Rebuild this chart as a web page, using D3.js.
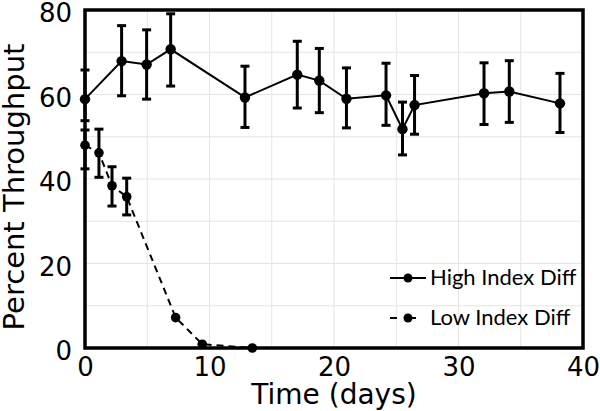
<!DOCTYPE html>
<html>
<head>
<meta charset="utf-8">
<script src="https://cdn.jsdelivr.net/npm/d3@7"></script>
<style>
  html, body { margin: 0; padding: 0; background: #fff; }
  svg { display: block; }
</style>
</head>
<body>
<svg id="chart" width="600" height="411"></svg>
<script>
// ---- data ----
const highDays   = [0, 2.94, 4.95, 6.88, 12.85, 17.05, 18.82, 21.0, 24.18, 25.5, 26.47, 32.05, 34.08, 38.15];
const highValues = [58.9, 67.9, 67.1, 70.7, 59.3, 64.7, 63.3, 59.0, 59.8, 51.8, 57.5, 60.3, 60.7, 57.9];
const highUpper  = [65.8, 76.3, 75.3, 79.1, 66.7, 72.6, 70.9, 66.3, 67.4, 58.2, 64.5, 67.5, 68.0, 65.0];
const highLower  = [53.8, 59.7, 58.9, 62.0, 52.2, 56.8, 55.7, 52.1, 52.7, 45.7, 50.6, 52.9, 53.4, 51.0];

const lowDays   = [0, 1.12, 2.17, 3.35, 7.28, 9.42, 13.44];
const lowValues = [48.0, 46.2, 38.4, 35.8, 7.2, 0.9, 0];
const lowUpper  = [51.6, 51.8, 42.9, 40.2, null, null, null];
const lowLower  = [42.4, 40.4, 33.6, 31.5, null, null, null];

const xTicks = [0, 10, 20, 30, 40];
const yTicks = [0, 20, 40, 60, 80];
const xGrid = [5, 10, 15, 20, 25, 30, 35];
const yGrid = [10, 20, 30, 40, 50, 60, 70];
const seriesNames = ["High Index Diff", "Low Index Diff"];
const xTitle = "Time (days)";
const yTitle = "Percent Throughput";

// ---- layout ----
const L = 85, R = 583, T = 10, B = 348;
const svg = d3.select("#chart");
const x = d3.scaleLinear().domain([0, 40]).range([L, R]);
const y = d3.scaleLinear().domain([0, 80]).range([B, T]);

const high = highDays.map((d, i) => ({x: d, y: highValues[i], lo: highLower[i], hi: highUpper[i]}));
const low = lowDays.map((d, i) => ({x: d, y: lowValues[i], lo: lowLower[i], hi: lowUpper[i]}));

// grid
svg.append("g").selectAll("line.v").data(xGrid).join("line")
  .attr("x1", d => x(d)).attr("x2", d => x(d)).attr("y1", T).attr("y2", B)
  .attr("stroke", "#e4e4e4").attr("stroke-width", 1);
svg.append("g").selectAll("line.h").data(yGrid).join("line")
  .attr("x1", L).attr("x2", R).attr("y1", d => y(d)).attr("y2", d => y(d))
  .attr("stroke", "#e4e4e4").attr("stroke-width", 1);

// axes (labels only)
const xAxis = svg.append("g").attr("transform", `translate(0,${B})`)
  .call(d3.axisBottom(x).tickValues(xTicks).tickSize(0).tickPadding(8).tickFormat(d3.format("d")));
const yAxis = svg.append("g").attr("transform", `translate(${L},0)`)
  .call(d3.axisLeft(y).tickValues(yTicks).tickSize(0).tickPadding(13).tickFormat(d3.format("d")));
[xAxis, yAxis].forEach(g => {
  g.select(".domain").remove();
  g.selectAll("text").attr("font-family", "DejaVu Sans, Verdana, sans-serif")
    .attr("font-size", 26).attr("fill", "#000");
});
yAxis.selectAll("text").attr("dy", "0.45em");
xAxis.selectAll("text").attr("dy", "0.75em");

// frame
svg.append("rect").attr("x", L).attr("y", T).attr("width", R - L).attr("height", B - T)
  .attr("fill", "none").attr("stroke", "#000").attr("stroke-width", 3.5);

// titles
svg.append("text").attr("x", (L + R) / 2).attr("y", 404).attr("text-anchor", "middle")
  .attr("font-family", "DejaVu Sans, Verdana, sans-serif").attr("font-size", 28).text(xTitle);
svg.append("text").attr("transform", `translate(24,${(T + B) / 2 + 8}) rotate(-90)`)
  .attr("text-anchor", "middle")
  .attr("font-family", "DejaVu Sans, Verdana, sans-serif").attr("font-size", 29).text(yTitle);

// lines
const lineGen = d3.line().x(d => x(d.x)).y(d => y(d.y));
svg.append("path").datum(high).attr("d", lineGen)
  .attr("fill", "none").attr("stroke", "#000").attr("stroke-width", 2);
svg.append("path").datum(low).attr("d", lineGen)
  .attr("fill", "none").attr("stroke", "#000").attr("stroke-width", 2).attr("stroke-dasharray", "7,5");

// error bars
function errorBars(data) {
  const e = data.filter(d => d.lo != null && d.hi != null);
  const g = svg.append("g").attr("stroke", "#000").attr("stroke-width", 3);
  g.selectAll("line.v").data(e).join("line")
    .attr("x1", d => x(d.x)).attr("x2", d => x(d.x)).attr("y1", d => y(d.lo)).attr("y2", d => y(d.hi));
  g.selectAll("line.t").data(e).join("line")
    .attr("x1", d => x(d.x) - 4.5).attr("x2", d => x(d.x) + 4.5).attr("y1", d => y(d.hi)).attr("y2", d => y(d.hi));
  g.selectAll("line.b").data(e).join("line")
    .attr("x1", d => x(d.x) - 4.5).attr("x2", d => x(d.x) + 4.5).attr("y1", d => y(d.lo)).attr("y2", d => y(d.lo));
}
errorBars(high);
errorBars(low);

// markers
svg.append("g").selectAll("circle").data(high).join("circle")
  .attr("cx", d => x(d.x)).attr("cy", d => y(d.y)).attr("r", 5.2).attr("fill", "#000");
svg.append("g").selectAll("circle").data(low).join("circle")
  .attr("cx", d => x(d.x)).attr("cy", d => y(d.y)).attr("r", 4.8).attr("fill", "#000");

// legend
const lg = svg.append("g");
const rows = [{name: seriesNames[0], y: 278, dash: null}, {name: seriesNames[1], y: 318, dash: "7,12"}];
rows.forEach(r => {
  lg.append("line").attr("x1", 390).attr("x2", 426).attr("y1", r.y).attr("y2", r.y)
    .attr("stroke", "#000").attr("stroke-width", 2).attr("stroke-dasharray", r.dash);
  lg.append("circle").attr("cx", 408).attr("cy", r.y).attr("r", 4.5).attr("fill", "#000");
  lg.append("text").attr("x", 430).attr("y", r.y + 7)
    .attr("font-family", "Lato, 'Open Sans', sans-serif").attr("font-size", 22).text(r.name);
});
</script>
</body>
</html>
